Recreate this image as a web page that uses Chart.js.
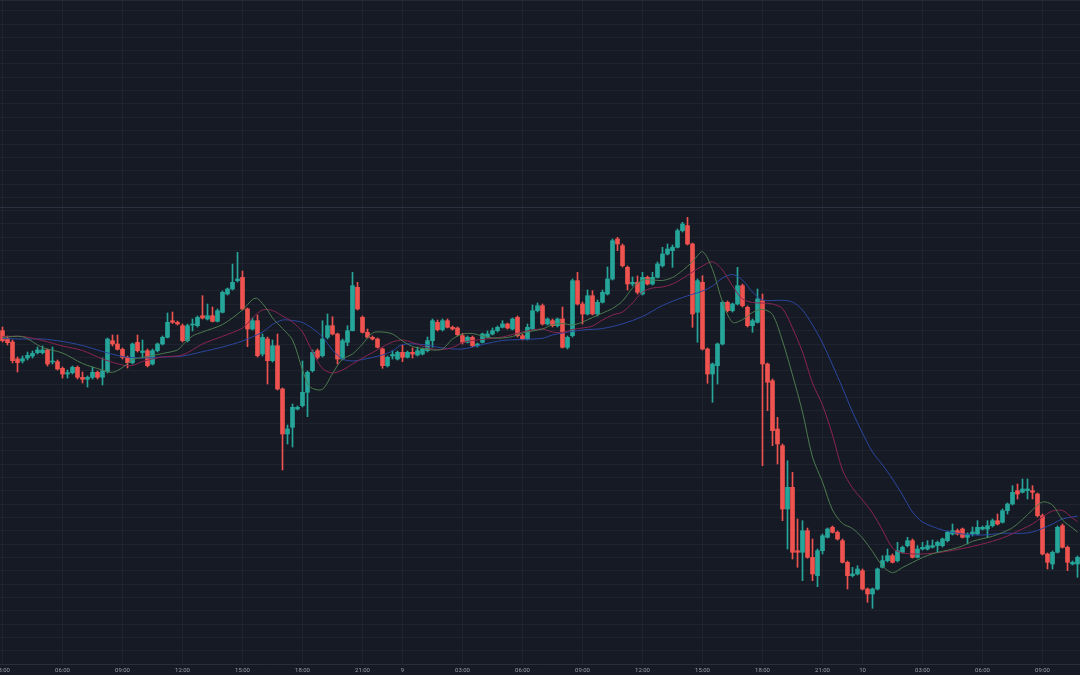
<!DOCTYPE html>
<html><head><meta charset="utf-8">
<script src="https://cdn.jsdelivr.net/npm/chart.js@4"></script>
<style>html,body{margin:0;padding:0;background:#131722;overflow:hidden}#wrap{width:1080px;height:675px}</style>
</head><body><div id="wrap"><canvas id="c" width="1080" height="675"></canvas></div>
<script>
// 15-minute candles (price units are unlabeled in the reference)
const opens = [
333.3,325.3,322,305,303,306,308,311.3,311.3,314,
302,302.3,295.7,290,291.3,296.7,286.7,284.7,286.7,291.7,
286.7,292.3,323.3,320,314.7,306.7,301.3,321.7,311.5,313.3,
300,313.3,320,326.7,343.3,341.7,338.3,323.3,339,338.3,
348.3,345,348.3,342.7,351.7,370,375,383.3,386.7,355,
335,343.3,310,325,303.3,318.3,275,230,236.7,255,
258.3,271.7,293.3,313.3,308.3,326.7,338.3,330,305,321.7,
333.3,376.7,346.7,331.7,326.7,325,315,298.3,308,305,
311.7,306.7,311.7,309,310,313.3,323.3,341.7,334.3,343.3,
336.7,336,328.3,321.7,326.7,318.3,321.7,326.7,330,333.3,
336.7,340,335,346.7,328.3,325,335,353.3,358.3,340,
343.3,338.3,345,316.7,328.3,383.3,360,350,368.3,350,
361.7,370,385,425,418.3,396.7,380,381.7,370,386.7,
380,386.7,398.3,410,413.3,416.7,433.3,438.3,420,351.7,
381.7,315,290,298.3,320,361.7,353.3,360,378.3,356.7,
338.3,341.7,363.3,300,283.3,235,218.3,155,176.7,113.3,
111.7,133.3,106.7,88.3,113.3,126.7,136.7,131.7,123.3,101.7,
88.3,90,93.3,75,70,75,96.7,103.3,108.3,103.3,
111.7,118.3,123.3,106.7,115,115,116.7,118.3,118.3,123.3,
130,133.3,135,126.7,130,130,135,135,138.3,143.3,
141.7,153.3,160,173.3,171.7,173.3,173.3,170,148.3,110,
100,111.7,138.3,116.7,100,100];
const highs = [
337,328,324,307,308,312,313,317,318,315,
317,304,297,294,298,298,292,288,297,293,
306,326,329,329,316,308,321,329,324,315,
315,321,328,351,352,343,340,340,345,348,
368.3,360,357,355,373,376,400,411.7,393,356,
346,349,330,327,324,330,276,239,260,258,
303,293,314,315,343.3,350,347.3,331,325,338.3,
391.7,381.7,348,335,328,326,316,308,313.3,313,
319,313,316,317,316,327,345,344,345,345,
338,337,330.7,328,328,321,331,333,336,338,
343.3,341,346,348,330,340,359,361,360,346,
345,346,357,328,385,391.7,362,374,373.3,364,
374,397,425,426.7,420,398,387,388,391.7,388,
391.7,402,416.7,420,419,435,441.7,446.7,421,385,
388.3,316,301,321,363,363,361,396.7,380,358,
345,375,370,301,285,246.7,220,203.3,191.7,145,
143.3,136,125,115,130,136,138,133,125,103,
96.7,98.3,95,76,76,96,108.3,115,110,121.7,
118,126.7,125,118.3,121.7,123.3,124,123,126,133,
140,135,136,131,137,143.3,138,143.3,145,150,
155,161,178.3,180,185,185,178.3,171,150,111,
113,138,140,118,103,108];
const lows = [
322,319,301,292,301,304,306,310,310,298,
300,294,286,286,290,285,281,277,285,285,
279,291,318,314,305,296,300,312,306,297,
299,312,319,326,340.5,339,322,322,333,337,
345,344,342,342,351,369,374,382,354,317.3,
334,307,308,280,302,274,194,220,217,254,
257,247.3,292,305,307,325,329,300,304,318.3,
333,354,331,326,324,316,295.7,297,305,304,
302.3,306,306,308,309,312,316.7,333,333,336,
334,328,320,321,317,317,321,326,329,332,
336,335,334,327,324,324,334,352,339,339,
337,337,316,315,327,359,340,349,349,348,
361,369,384,413.3,397,374,378,370,369,379,
379,386,397,409,396.7,416,432,419,336.7,321.7,
314,280.7,261.7,280,319,352,352,359,357,337,
331.7,341,198.3,253.3,218.3,200,143.3,115,105,96.7,
83.3,105.7,83.3,77.3,110,126,131,124,101,75,
87,89,74,61.7,55.7,74,96,102,101,102,
111,117,106,106,114,114,116,111.7,117,122,
129,129,126,120,128,129,134,126.7,137,139,
141,150,159,165,171,165,165,147,109,95,
95,111,116,93.3,99,86.7];
const closes = [
323.3,321.3,303.3,301.3,305.3,308.7,310.7,314,314,300,
303,295,290,291.3,296.7,286.7,284.7,286.7,291.7,286.7,
293.3,325,320,314.7,306.7,301.3,320,313.3,313,298.3,
313.3,320,326.7,341.7,341.7,340,323.3,338.3,340,346.7,
346,348.3,342.7,353.3,371.7,375,381.7,385,355,335,
343.3,308.3,326.7,303.3,318.3,275,230,235,256.7,256.7,
271.7,291.7,311.7,306.7,325,338.3,330,305,323.3,333.3,
378.3,355,331.7,326.7,325,316.7,298.3,306.7,309.5,311.7,
306.7,311.7,310,313.3,315,323.3,343.3,334.3,343.3,336.7,
335,329.3,321.7,326.7,318.3,320,330,330,333.3,336.7,
340,336,345,328.3,325,336.7,353.3,358.3,340,345,
338.3,345,316.7,326.7,383.3,360,350,368.3,350,361.7,
371.7,385,423.3,420,398.3,380,381.7,371.7,386.7,380,
386.7,400,410,415,416.7,433.3,440,420,350,383.3,
315,290,300,320,361.7,353.3,360,378.3,358.3,338.3,
343.3,365,300,281.7,233.3,220,155,176.7,111.7,111.7,
133.3,106.7,90,113.3,128.3,135,131.7,125,101.7,88.3,
90,95,75,70,75,95,103.3,108.3,101.7,113.3,
116.7,123.3,106.7,115,116.7,118.3,118.3,121.7,125,131.7,
133.3,130,126.7,130,132,136.7,136.7,138.3,143.3,140,
153.3,160,171.7,170,175,175,171.7,148.3,110,101.7,
111.7,136.7,116.7,101.7,101.7,106.7];

// moving-average lines: [candle index, value]
const maFast = [[0,326.5],[4,327.3],[8,316.5],[12,311],[16,300.5],[20,294],[22,291.7],[24,296.5],[26,304.3],[28,306.5],[32,310.5],[35,314],[36,319],[38,328],[40,332],[44,339.5],[48,354],[50,364.5],[51,365.5],[53,354],[54,346],[56,335.5],[58,324],[60,294],[61,281],[62,275.5],[64,274.7],[66,290.5],[68,305],[70,310],[72,320],[74,331],[76,332],[78,330],[80,323],[82,317.5],[84,315.5],[86,314],[88,315],[90,325],[92,330],[94,330.5],[96,328],[98,326],[100,326],[102,327.5],[104,331],[106,333],[108,335],[110,339.3],[112,340.5],[114,339],[116,342],[118,346.5],[120,351],[122,355.5],[124,363],[126,376],[128,384],[130,384],[132,383.5],[134,386.5],[136,393.5],[138,402.3],[140,412.3],[142,394.5],[144,362],[146,341.7],[148,344.3],[150,351.5],[152,354.7],[154,349.5],[156,323],[158,289],[160,252],[162,207],[164,182],[166,154],[168,140.5],[170,135.5],[172,126],[174,112.5],[176,98],[178,91.3],[180,96.5],[182,101.5],[184,106.5],[186,110.2],[188,112.7],[190,115],[192,118],[194,122.7],[196,125.3],[198,127.7],[200,131.5],[202,136.3],[204,144.5],[206,154.2],[208,162],[210,159],[212,144],[214,136],[215,132]];
const maMid = [[0,327.5],[4,327.5],[8,323.5],[12,318],[16,313.5],[20,305],[24,299],[26,298.5],[28,302.5],[32,307],[36,309],[40,320],[44,327.7],[48,336],[50,346],[52,354],[54,353.5],[56,348],[58,342],[60,332],[62,312],[64,295.5],[66,291],[68,294],[70,300],[72,306],[74,311.5],[76,317],[78,322],[80,324],[82,321.5],[84,318],[86,315],[88,314.5],[90,316.5],[92,321.5],[94,323.5],[96,324.5],[98,325.7],[100,327],[102,329.5],[104,332],[106,334],[108,335],[110,332],[112,331.5],[114,334.5],[116,336],[118,338],[120,344],[122,349],[124,352],[126,361],[128,372],[130,376],[132,377],[134,380],[136,385.5],[138,392],[140,398],[142,402.3],[144,394],[146,378],[148,365],[150,361.5],[152,361],[154,360],[156,355.5],[158,336],[160,312],[162,281],[164,259],[166,229],[168,194],[170,176],[172,164],[174,151],[176,134],[178,116],[180,111],[184,110],[188,112],[192,115.5],[196,120],[200,126],[204,135],[206,140],[208,147],[210,153],[212,153.5],[214,146],[215,142.5]];
const maSlow = [[0,325.5],[4,325],[8,325],[12,322.5],[16,318.5],[20,312.5],[24,307.5],[28,306],[32,307],[36,308],[40,312.3],[44,317],[48,323],[52,332],[54,339.5],[56,344],[58,343.5],[60,341.5],[62,335.5],[64,327],[66,314],[68,305],[70,303],[72,304.5],[76,309],[78,313],[80,319.5],[84,319.5],[88,316],[92,315],[96,319.5],[100,323.5],[104,324.5],[108,325.7],[110,329],[112,331],[116,334],[120,335.5],[124,340.2],[128,347.5],[132,358.5],[136,366.5],[140,373],[142,378],[144,386],[146,389.5],[148,384],[150,372],[152,364],[156,363.7],[158,362],[160,354],[162,339],[164,321],[166,299],[168,276],[170,252],[172,231],[174,212],[176,199],[178,185],[180,169],[182,152],[184,142],[188,134],[192,130],[196,129],[200,130.7],[204,130.7],[206,132],[208,135.5],[210,140],[212,145],[215,148]];

// time-axis tick labels: candle index and text
const tickIndex = [0,12,24,36,48,60,72,80,92,104,116,128,140,152,164,172,184,196,208];
const tickText = ['03:00','06:00','09:00','12:00','15:00','18:00','21:00','9','03:00','06:00','09:00','12:00','15:00','18:00','21:00','10','03:00','06:00','09:00'];

const refLevel = 456.7;      // lighter horizontal reference line
const yMin = 0, yMax = 664, yStep = 40/3;

const N = opens.length;
const labels = opens.map((_, i) => String(i));
const tickAt = {};
tickIndex.forEach((ix, k) => { tickAt[ix] = tickText[k]; });
function sparse(pairs) { const a = new Array(N).fill(null); pairs.forEach(([i, v]) => { a[i] = v; }); return a; }
const UP = '#26a69a', DOWN = '#ef5350';
const candleColors = closes.map((c, i) => c >= opens[i] ? UP : DOWN);
const GRID = '#1f2330';

const bgPlugin = {
  id: 'bg',
  beforeDraw(chart) {
    const ctx = chart.ctx;
    ctx.save(); ctx.fillStyle = '#161a25'; ctx.fillRect(0, 0, chart.width, chart.height); ctx.restore();
  },
  beforeDatasetsDraw(chart) {
    const {ctx, chartArea, scales} = chart;
    const y = Math.round(scales.y.getPixelForValue(refLevel)) + 0.5;
    ctx.save(); ctx.strokeStyle = '#2a3242'; ctx.lineWidth = 1;
    ctx.beginPath(); ctx.moveTo(chartArea.left, y); ctx.lineTo(chartArea.right, y); ctx.stroke();
    ctx.beginPath(); ctx.moveTo(chartArea.left, 0.5); ctx.lineTo(chartArea.right, 0.5); ctx.strokeStyle = '#262a36'; ctx.stroke();
    ctx.restore();
  }
};

const lineDs = (pairs, color) => ({
  type: 'line', data: sparse(pairs), borderColor: color, borderWidth: 1,
  pointRadius: 0, spanGaps: true, tension: 0.3, fill: false, order: 0
});

new Chart(document.getElementById('c'), {
  type: 'bar',
  data: {
    labels,
    datasets: [
      lineDs(maFast, '#4d7a4f'),
      lineDs(maMid, '#8a2450'),
      lineDs(maSlow, '#2b47a0'),
      { data: opens.map((o, i) => [o, closes[i]]), backgroundColor: candleColors, barThickness: 4, minBarLength: 1, grouped: false, order: 1 },
      { data: lows.map((l, i) => [l, highs[i]]), backgroundColor: candleColors, barThickness: 1, grouped: false, order: 2 }
    ]
  },
  options: {
    responsive: false, animation: false, events: [],
    layout: { padding: 0 },
    plugins: { legend: { display: false }, tooltip: { enabled: false } },
    scales: {
      x: {
        offset: true,
        grid: { offset: false, drawTicks: false, color: ctx => tickAt[ctx.index] !== undefined ? GRID : 'rgba(0,0,0,0)' },
        border: { color: '#2a2e39' },
        ticks: { autoSkip: false, maxRotation: 0, minRotation: 0, padding: 3, color: '#9a9ea8',
                 font: { size: 6, family: 'Roboto' }, callback: (v, i) => tickAt[i] || '' },
        afterFit: s => { s.height = 11; s.paddingLeft = 0; s.paddingRight = 0; }
      },
      y: {
        min: yMin, max: yMax,
        ticks: { display: false, stepSize: yStep, includeBounds: false },
        grid: { color: GRID, drawTicks: false },
        border: { display: false },
        afterFit: s => { s.width = 0; s.paddingTop = 0; s.paddingBottom = 0; }
      }
    }
  },
  plugins: [bgPlugin]
});
</script>
</body></html>
